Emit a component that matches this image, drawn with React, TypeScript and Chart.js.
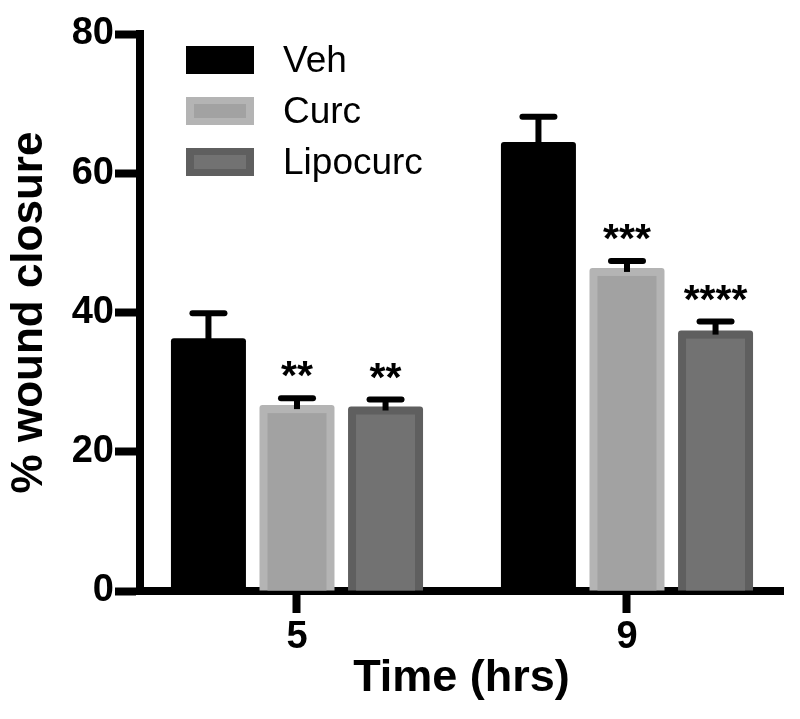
import React, { useEffect, useRef } from "react";
import { Chart, registerables } from "chart.js";

Chart.register(...registerables);

// ---- data ----
const hours = [5, 9];
const seriesNames = ["Veh", "Curc", "Lipocurc"];
const vehMean = [36.3, 64.5];
const vehSem = [3.6, 3.6];
const curcMean = [26.7, 46.4];
const curcSem = [1.0, 1.0];
const lipoMean = [26.5, 37.4];
const lipoSem = [1.0, 1.3];
const curcStars = ["**", "***"];
const lipoStars = ["**", "****"];
const vehStars = ["", ""];
const yTicks = [0, 20, 40, 60, 80];

const innerColors = ["#000000", "#a2a2a2", "#727272"];
const outerColors = ["#000000", "#b4b4b4", "#5f5f5f"];

const FONT = "'Liberation Sans', Arial, Helvetica, sans-serif";
const BORDER = 8;

const errorPlugin = {
  id: "errorBarsStars",
  afterDatasetsDraw(chart: any) {
    const ctx = chart.ctx;
    const y = chart.scales.y;
    // inner panels of bars
    chart.data.datasets.forEach((ds: any, di: number) => {
      const meta = chart.getDatasetMeta(di);
      meta.data.forEach((bar: any) => {
        const p = bar.getProps(["x", "y", "width", "base"], true);
        ctx.save();
        ctx.fillStyle = ds.innerColor;
        ctx.fillRect(
          p.x - p.width / 2 + BORDER,
          p.y + BORDER,
          p.width - 2 * BORDER,
          p.base - p.y - BORDER
        );
        ctx.restore();
      });
    });
    chart.data.datasets.forEach((ds: any, di: number) => {
      const meta = chart.getDatasetMeta(di);
      meta.data.forEach((bar: any, i: number) => {
        const v = ds.data[i].y;
        const e = ds.sem[i];
        const x = bar.x;
        const yv = y.getPixelForValue(v);
        const ye = y.getPixelForValue(v + e);
        ctx.save();
        ctx.strokeStyle = "#000";
        ctx.lineWidth = 6;
        ctx.lineCap = "butt";
        ctx.beginPath();
        ctx.moveTo(x, yv + 4);
        ctx.lineTo(x, ye);
        ctx.stroke();
        ctx.lineCap = "round";
        ctx.beginPath();
        ctx.moveTo(x - 16, ye);
        ctx.lineTo(x + 16, ye);
        ctx.stroke();
        const star = ds.stars[i];
        if (star) {
          ctx.fillStyle = "#000";
          ctx.font = `bold 41px ${FONT}`;
          ctx.textAlign = "center";
          ctx.textBaseline = "alphabetic";
          ctx.fillText(star, x, ye - 9);
        }
        ctx.restore();
      });
    });
  },
};

const legendPlugin = {
  id: "customLegend",
  afterDraw(chart: any) {
    const ctx = chart.ctx;
    const area = chart.chartArea;
    const bx = area.left + 46;
    const by0 = area.top + 12;
    const bw = 68;
    const bh = 28;
    const step = 51;
    chart.data.datasets.forEach((ds: any, i: number) => {
      const by = by0 + i * step;
      ctx.save();
      ctx.fillStyle = ds.backgroundColor;
      ctx.fillRect(bx, by, bw, bh);
      ctx.fillStyle = ds.innerColor;
      ctx.fillRect(bx + 8, by + 7, bw - 16, bh - 14);
      ctx.fillStyle = "#000";
      ctx.font = `37px ${FONT}`;
      ctx.textAlign = "left";
      ctx.textBaseline = "middle";
      ctx.fillText(ds.label, bx + 97, by + bh / 2 + 2);
      ctx.restore();
    });
  },
};

export default function App() {
  const ref = useRef<HTMLCanvasElement | null>(null);

  useEffect(() => {
    if (!ref.current) return;
    const means = [vehMean, curcMean, lipoMean];
    const sems = [vehSem, curcSem, lipoSem];
    const stars = [vehStars, curcStars, lipoStars];
    const chart = new Chart(ref.current, {
      type: "bar",
      data: {
        datasets: seriesNames.map((name, k) => ({
          label: name,
          data: hours.map((h, i) => ({ x: h, y: means[k][i] })),
          sem: sems[k],
          stars: stars[k],
          innerColor: innerColors[k],
          backgroundColor: outerColors[k],
          borderWidth: 0,
          borderRadius: 3,
          categoryPercentage: 0.805,
          barPercentage: 0.847,
        })) as any,
      },
      options: {
        animation: false,
        responsive: false,
        maintainAspectRatio: false,
        layout: { padding: { top: 34, right: 17, bottom: 13, left: 0 } },
        plugins: {
          legend: { display: false },
          tooltip: { enabled: false },
        },
        scales: {
          x: {
            type: "linear",
            min: 3.097,
            max: 10.891,
            offset: false,
            afterBuildTicks: (scale: any) => {
              scale.ticks = hours.map((h) => ({ value: h }));
            },
            afterFit: (scale: any) => {
              scale.height = 115;
            },
            ticks: {
              color: "#000",
              font: { family: FONT, size: 38, weight: "bold" },
              padding: 2,
              callback: (v: any) => String(v),
            },
            grid: {
              display: true,
              offset: false,
              drawOnChartArea: false,
              drawTicks: true,
              tickLength: 22,
              tickWidth: 8,
              tickColor: "#000",
              color: "#000",
            },
            border: { display: true, color: "#000", width: 8 },
            title: {
              display: true,
              text: "Time (hrs)",
              color: "#000",
              font: { family: FONT, size: 45, weight: "bold" },
              padding: { top: 0, bottom: 0 },
            },
          },
          y: {
            min: 0,
            max: 80,
            afterBuildTicks: (scale: any) => {
              scale.ticks = yTicks.map((t) => ({ value: t }));
            },
            afterFit: (scale: any) => {
              scale.width = 140;
            },
            ticks: {
              color: "#000",
              font: { family: FONT, size: 38, weight: "bold" },
              padding: 1,
            },
            grid: {
              display: true,
              drawOnChartArea: false,
              drawTicks: true,
              tickLength: 25,
              tickWidth: 8,
              tickColor: "#000",
              color: "#000",
            },
            border: { display: true, color: "#000", width: 8 },
            title: {
              display: true,
              text: "% wound closure",
              color: "#000",
              font: { family: FONT, size: 44, weight: "bold" },
              padding: { top: 3, bottom: 0 },
            },
          },
        },
      } as any,
      plugins: [errorPlugin, legendPlugin],
    });
    return () => chart.destroy();
  }, []);

  return (
    <div style={{ position: "fixed", left: 0, top: 0, width: 800, height: 719, background: "#fff" }}>
      <canvas ref={ref} width={800} height={719} style={{ width: 800, height: 719, display: "block" }} />
    </div>
  );
}
